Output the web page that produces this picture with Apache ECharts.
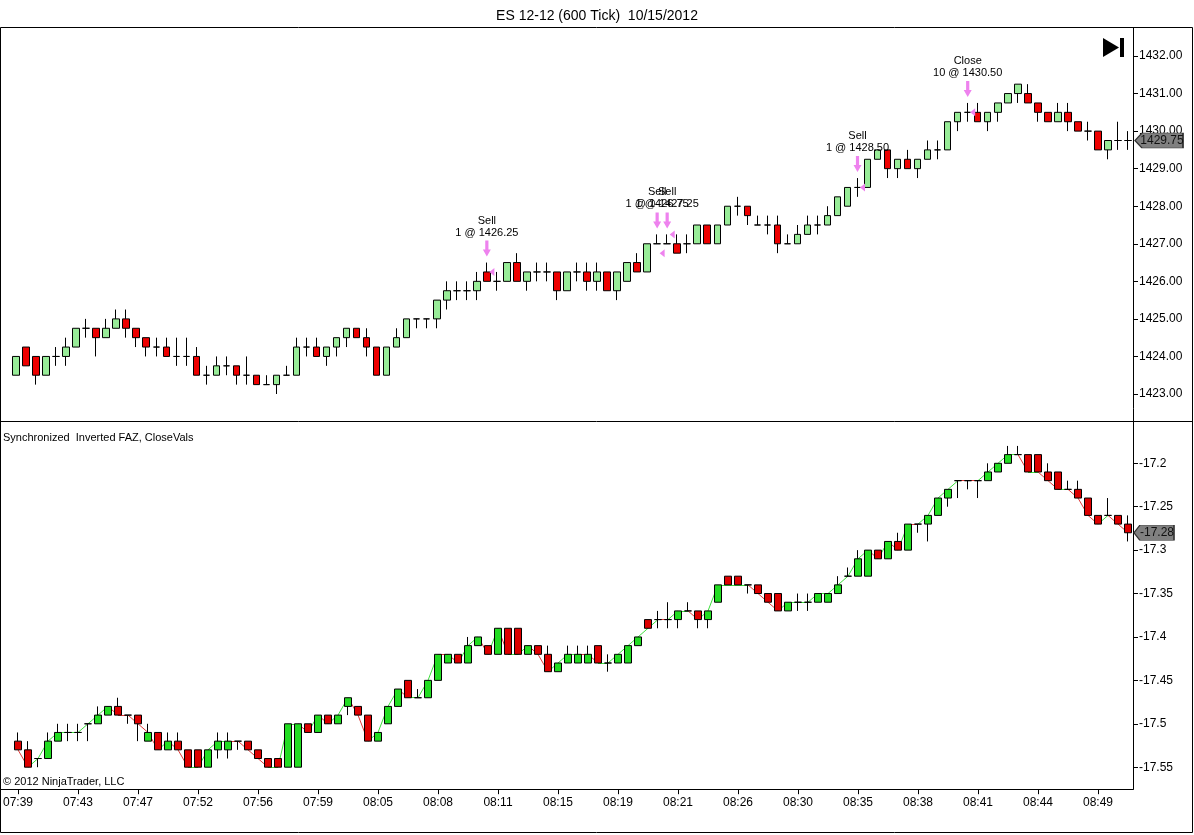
<!DOCTYPE html>
<html>
<head>
<meta charset="utf-8">
<script src="https://cdn.jsdelivr.net/npm/echarts@6/dist/echarts.min.js"></script>
<style>
html,body{margin:0;padding:0;background:#fff;}
#chart{width:1194px;height:835px;}
</style>
</head>
<body>
<div id="chart"></div>
<script>
// ---- DATA ----
const tickLabels = ['07:39','07:43','07:47','07:52','07:56','07:59','08:05','08:08','08:11','08:15','08:19','08:21','08:26','08:30','08:35','08:38','08:41','08:44','08:49'];

// ES 12-12 600 tick bars: [open, close, low, high]
const esOHLC = [
[1423.5,1424,1423.5,1424],[1424.25,1423.75,1423.75,1424.25],[1424,1423.5,1423.25,1424],[1423.5,1424,1423.5,1424],
[1424,1424,1423.75,1424.25],[1424,1424.25,1423.75,1424.5],[1424.25,1424.75,1424.25,1424.75],[1424.75,1424.75,1424.5,1425],
[1424.75,1424.5,1424,1424.75],[1424.5,1424.75,1424.5,1425],[1424.75,1425,1424.75,1425.25],[1425,1424.75,1424.5,1425.25],
[1424.75,1424.5,1424.25,1424.75],[1424.5,1424.25,1424,1424.5],[1424.25,1424.25,1424,1424.5],[1424.25,1424,1424,1424.5],
[1424,1424,1423.75,1424.5],[1424,1424,1423.75,1424.5],[1424,1423.5,1423.5,1424.25],[1423.5,1423.5,1423.25,1423.75],
[1423.5,1423.75,1423.5,1424],[1423.75,1423.75,1423.5,1424],[1423.75,1423.5,1423.25,1423.75],[1423.5,1423.5,1423.25,1424],
[1423.5,1423.25,1423.25,1423.5],[1423.25,1423.25,1423.25,1423.5],[1423.25,1423.5,1423,1423.5],[1423.5,1423.5,1423.5,1423.75],
[1423.5,1424.25,1423.5,1424.5],[1424.25,1424.25,1424,1424.5],[1424.25,1424,1424,1424.5],[1424,1424.25,1423.75,1424.25],
[1424.25,1424.5,1424,1424.5],[1424.5,1424.75,1424.25,1424.75],[1424.75,1424.5,1424.5,1424.75],[1424.5,1424.25,1424,1424.75],
[1424.25,1423.5,1423.5,1424.25],[1423.5,1424.25,1423.5,1424.25],[1424.25,1424.5,1424.25,1424.75],[1424.5,1425,1424.5,1425],
[1425,1425,1424.75,1425],[1425,1425,1424.75,1425],[1425,1425.5,1424.75,1425.5],[1425.5,1425.75,1425.25,1426],
[1425.75,1425.75,1425.5,1426],[1425.75,1425.75,1425.5,1426],[1425.75,1426,1425.5,1426.25],[1426.25,1426,1426,1426.5],
[1426,1426,1425.75,1426.25],[1426,1426.5,1426,1426.5],[1426.5,1426,1426,1426.75],[1426,1426.25,1425.75,1426.25],
[1426.25,1426.25,1426,1426.5],[1426.25,1426.25,1426,1426.5],[1426.25,1425.75,1425.5,1426.25],[1425.75,1426.25,1425.75,1426.25],
[1426.25,1426.25,1426,1426.5],[1426.25,1426,1425.75,1426.5],[1426,1426.25,1425.75,1426.5],[1426.25,1425.75,1425.75,1426.25],
[1425.75,1426.25,1425.5,1426.25],[1426,1426.5,1426,1426.5],[1426.5,1426.25,1426.25,1426.75],[1426.25,1427,1426.25,1427],
[1427,1427,1427,1427.25],[1427,1427,1427,1427.25],[1427,1426.75,1426.75,1427.25],[1427,1427,1426.75,1427.25],
[1427,1427.5,1427,1427.5],[1427.5,1427,1427,1427.5],[1427,1427.5,1427,1427.5],[1427.5,1428,1427.5,1428],
[1428,1428,1427.75,1428.25],[1428,1427.75,1427.5,1428],[1427.5,1427.5,1427.5,1427.75],[1427.5,1427.5,1427.25,1427.75],
[1427.5,1427,1426.75,1427.75],[1427,1427,1427,1427.25],[1427,1427.25,1427,1427.5],[1427.25,1427.5,1427.25,1427.75],
[1427.5,1427.5,1427.25,1427.75],[1427.5,1427.75,1427.5,1428],[1427.75,1428.25,1427.75,1428.25],[1428,1428.5,1428,1428.5],
[1428.5,1428.5,1428.25,1428.75],[1428.5,1429.25,1428.5,1429.25],[1429.25,1429.5,1429.25,1429.5],[1429.5,1429,1428.75,1429.5],
[1429,1429.25,1428.75,1429.25],[1429.25,1429,1429,1429.5],[1429,1429.25,1428.75,1429.25],[1429.25,1429.5,1429.25,1429.75],
[1429.5,1429.5,1429.25,1429.75],[1429.5,1430.25,1429.5,1430.25],[1430.25,1430.5,1430,1430.5],[1430.5,1430.5,1430.25,1430.75],
[1430.5,1430.25,1430.25,1430.75],[1430.25,1430.5,1430,1430.5],[1430.5,1430.75,1430.25,1430.75],[1430.75,1431,1430.75,1431],
[1431,1431.25,1430.75,1431.25],[1431,1430.75,1430.75,1431.25],[1430.75,1430.5,1430.25,1430.75],[1430.5,1430.25,1430.25,1430.5],
[1430.25,1430.5,1430.25,1430.75],[1430.5,1430.25,1430,1430.75],[1430.25,1430,1430,1430.25],[1430,1430,1429.75,1430.25],
[1430,1429.5,1429.5,1430],[1429.5,1429.75,1429.25,1429.75],[1429.75,1429.75,1429.5,1430.25],[1429.75,1429.75,1429.5,1430]
];

// Synchronized Inverted FAZ, CloseVals: [open, close, low, high]
const fazOHLC = [
[-17.52,-17.53,-17.53,-17.51],[-17.53,-17.55,-17.55,-17.52],[-17.54,-17.54,-17.55,-17.54],[-17.54,-17.52,-17.54,-17.51],
[-17.52,-17.51,-17.52,-17.50],[-17.51,-17.51,-17.52,-17.50],[-17.51,-17.51,-17.52,-17.50],[-17.50,-17.50,-17.52,-17.50],
[-17.50,-17.49,-17.50,-17.48],[-17.49,-17.48,-17.49,-17.48],[-17.48,-17.49,-17.49,-17.47],[-17.49,-17.49,-17.50,-17.49],
[-17.49,-17.50,-17.52,-17.49],[-17.52,-17.51,-17.52,-17.50],[-17.51,-17.53,-17.53,-17.51],[-17.53,-17.52,-17.53,-17.51],
[-17.52,-17.53,-17.53,-17.51],[-17.53,-17.55,-17.55,-17.53],[-17.53,-17.55,-17.55,-17.53],[-17.55,-17.53,-17.55,-17.53],
[-17.53,-17.52,-17.54,-17.51],[-17.53,-17.52,-17.54,-17.51],[-17.52,-17.52,-17.53,-17.52],[-17.52,-17.53,-17.53,-17.52],
[-17.53,-17.54,-17.54,-17.53],[-17.54,-17.55,-17.55,-17.54],[-17.54,-17.55,-17.55,-17.54],[-17.55,-17.50,-17.55,-17.50],
[-17.55,-17.50,-17.55,-17.50],[-17.50,-17.51,-17.51,-17.50],[-17.51,-17.49,-17.51,-17.49],[-17.49,-17.50,-17.50,-17.49],
[-17.50,-17.49,-17.50,-17.49],[-17.48,-17.47,-17.49,-17.47],[-17.48,-17.49,-17.49,-17.48],[-17.49,-17.52,-17.52,-17.49],
[-17.52,-17.51,-17.52,-17.51],[-17.50,-17.48,-17.50,-17.48],[-17.48,-17.46,-17.48,-17.46],[-17.45,-17.47,-17.47,-17.45],
[-17.47,-17.47,-17.47,-17.46],[-17.47,-17.45,-17.47,-17.45],[-17.45,-17.42,-17.45,-17.42],[-17.43,-17.42,-17.43,-17.42],
[-17.42,-17.43,-17.43,-17.42],[-17.43,-17.41,-17.43,-17.40],[-17.41,-17.40,-17.41,-17.40],[-17.41,-17.42,-17.42,-17.41],
[-17.42,-17.39,-17.42,-17.39],[-17.39,-17.42,-17.42,-17.39],[-17.39,-17.42,-17.42,-17.39],[-17.42,-17.41,-17.42,-17.41],
[-17.41,-17.42,-17.42,-17.41],[-17.42,-17.44,-17.44,-17.41],[-17.44,-17.43,-17.44,-17.43],[-17.43,-17.42,-17.43,-17.41],
[-17.43,-17.42,-17.43,-17.41],[-17.43,-17.42,-17.43,-17.41],[-17.41,-17.43,-17.43,-17.41],[-17.43,-17.43,-17.44,-17.42],
[-17.43,-17.42,-17.43,-17.42],[-17.43,-17.41,-17.43,-17.41],[-17.41,-17.40,-17.41,-17.40],[-17.38,-17.39,-17.39,-17.38],
[-17.38,-17.38,-17.39,-17.37],[-17.38,-17.38,-17.39,-17.36],[-17.38,-17.37,-17.39,-17.37],[-17.37,-17.37,-17.37,-17.36],
[-17.37,-17.38,-17.39,-17.37],[-17.38,-17.37,-17.39,-17.37],[-17.36,-17.34,-17.36,-17.34],[-17.33,-17.34,-17.34,-17.33],
[-17.33,-17.34,-17.34,-17.33],[-17.34,-17.34,-17.35,-17.34],[-17.34,-17.35,-17.35,-17.34],[-17.35,-17.36,-17.36,-17.35],
[-17.35,-17.37,-17.37,-17.35],[-17.37,-17.36,-17.37,-17.36],[-17.36,-17.36,-17.37,-17.35],[-17.36,-17.36,-17.37,-17.35],
[-17.36,-17.35,-17.36,-17.35],[-17.36,-17.35,-17.36,-17.35],[-17.35,-17.34,-17.35,-17.33],[-17.33,-17.33,-17.33,-17.32],
[-17.33,-17.31,-17.33,-17.30],[-17.33,-17.30,-17.33,-17.30],[-17.30,-17.31,-17.31,-17.30],[-17.31,-17.29,-17.31,-17.29],
[-17.29,-17.30,-17.30,-17.28],[-17.30,-17.27,-17.30,-17.27],[-17.27,-17.27,-17.28,-17.27],[-17.27,-17.26,-17.29,-17.26],
[-17.26,-17.24,-17.26,-17.24],[-17.24,-17.23,-17.25,-17.23],[-17.22,-17.22,-17.24,-17.22],[-17.22,-17.22,-17.23,-17.22],
[-17.22,-17.22,-17.24,-17.22],[-17.22,-17.21,-17.22,-17.20],[-17.21,-17.20,-17.21,-17.20],[-17.20,-17.19,-17.20,-17.18],
[-17.19,-17.19,-17.19,-17.18],[-17.19,-17.21,-17.21,-17.19],[-17.19,-17.21,-17.21,-17.19],[-17.21,-17.22,-17.22,-17.20],
[-17.21,-17.23,-17.23,-17.21],[-17.23,-17.23,-17.23,-17.22],[-17.23,-17.24,-17.24,-17.22],[-17.24,-17.26,-17.26,-17.24],
[-17.26,-17.27,-17.27,-17.26],[-17.26,-17.26,-17.26,-17.24],[-17.26,-17.27,-17.27,-17.26],[-17.27,-17.28,-17.29,-17.26]
];

// flat close-to-close segments that the indicator plotted as falling (segment end index)
const flatDownSegs = [11, 22, 43, 57, 65, 90, 95, 96];

// executions
const tradeIdx   = [47, 64, 65, 84, 95];
const tradeType  = ['Sell', 'Sell', 'Sell', 'Sell', 'Close'];
const tradeQty   = [1, 1, 1, 1, 10];
const tradePrice = [1426.25, 1426.75, 1427.25, 1428.50, 1430.50];

const categories = esOHLC.map((_, i) => (i % 6 === 0 ? tickLabels[i / 6] : ''));

// ---- BUILD ----
const FONT = 'Liberation Sans, Arial, sans-serif';
const PINK = '#ee82ee';
const n = esOHLC.length;
const fazClose = fazOHLC.map(r => r[1]);

const segs = [];
for (let i = 1; i < fazClose.length; i++) {
  const d = fazClose[i] - fazClose[i - 1];
  const up = d > 1e-9 ? true : (d < -1e-9 ? false : flatDownSegs.indexOf(i) < 0);
  segs.push({ coords: [[i - 1, fazClose[i - 1]], [i, fazClose[i]]],
              lineStyle: { color: up ? '#3ee03e' : '#e03a3a', width: 1, opacity: 1 } });
}

const arrowPath = 'path://M3,0 L7,0 L7,9 L10,9 L5,16 L0,9 L3,9 Z';
const fillPath = 'path://M0,4 L6,0 L6,8 Z';
const tagPath = 'path://M0,7 L7,0 L48,0 L48,14 L7,14 Z';

const tradeMarks = [];
tradeIdx.forEach((idx, k) => {
  tradeMarks.push({
    coord: [idx, esOHLC[idx][3]],
    symbol: arrowPath, symbolSize: [8, 16], symbolOffset: [0, -14],
    itemStyle: { color: PINK },
    label: { show: true, position: 'top', distance: 2,
             formatter: tradeType[k] + '\n' + tradeQty[k] + ' @ ' + tradePrice[k].toFixed(2),
             color: '#000', fontSize: 11, lineHeight: 12, fontFamily: FONT }
  });
  tradeMarks.push({
    coord: [idx, tradePrice[k]],
    symbol: fillPath, symbolSize: [5, 8], symbolOffset: [5, 0],
    itemStyle: { color: PINK }, label: { show: false }
  });
});

function lastTag(val, text, w, off) {
  return {
    coord: [n - 1, val], symbol: tagPath, symbolSize: [w, 15], symbolOffset: [off, 0],
    itemStyle: { color: '#808080', borderColor: '#333', borderWidth: 1 },
    label: { show: true, position: 'inside', formatter: text, color: '#111',
             fontSize: 12, fontFamily: FONT, offset: [3, 0] }
  };
}
tradeMarks.push(lastTag(esOHLC[n - 1][1], esOHLC[n - 1][1].toFixed(2), 48, 31));

const chart = echarts.init(document.getElementById('chart'));
chart.setOption({
  animation: false,
  backgroundColor: '#fff',
  title: { text: 'ES 12-12 (600 Tick)  10/15/2012', left: 'center', top: 4,
           textStyle: { fontSize: 14, fontWeight: 'normal', color: '#000', fontFamily: FONT } },
  grid: [
    { left: 11, right: 61, top: 56, height: 338 },
    { left: 11, right: 61, top: 463.3, height: 303.9 }
  ],
  xAxis: [
    { type: 'category', gridIndex: 0, data: categories, show: false },
    { type: 'category', gridIndex: 1, data: categories, offset: 22,
      axisLine: { show: true, lineStyle: { color: '#000' } },
      axisTick: { show: true, interval: 5, length: 5, alignWithLabel: true, lineStyle: { color: '#000' } },
      axisLabel: { interval: 5, color: '#000', fontSize: 12, margin: 7, fontFamily: FONT },
      splitLine: { show: false } }
  ],
  yAxis: [
    { type: 'value', gridIndex: 0, position: 'right', min: 1423, max: 1432, interval: 1,
      splitLine: { show: false },
      axisLine: { show: true, lineStyle: { color: '#000' } },
      axisTick: { show: true, length: 5, lineStyle: { color: '#000' } },
      axisLabel: { formatter: v => v.toFixed(2), color: '#000', fontSize: 12, margin: 6, fontFamily: FONT } },
    { type: 'value', gridIndex: 1, position: 'right', min: -17.55, max: -17.2, interval: 0.05,
      splitLine: { show: false },
      axisLine: { show: true, lineStyle: { color: '#000' } },
      axisTick: { show: true, length: 5, lineStyle: { color: '#000' } },
      axisLabel: { formatter: v => String(Math.round(v * 100) / 100), color: '#000', fontSize: 12, margin: 6, fontFamily: FONT } }
  ],
  series: [
    { type: 'candlestick', xAxisIndex: 0, yAxisIndex: 0, data: esOHLC, barWidth: 7, z: 3, clip: false,
      itemStyle: { color: '#98ec98', color0: '#ee0000', borderColor: '#000', borderColor0: '#000', borderColorDoji: '#000', borderWidth: 1 },
      markPoint: { data: tradeMarks, animation: false } },
    { type: 'lines', coordinateSystem: 'cartesian2d', xAxisIndex: 1, yAxisIndex: 1, z: 2, clip: false,
      data: segs, lineStyle: { width: 1, opacity: 1 }, silent: true },
    { type: 'candlestick', xAxisIndex: 1, yAxisIndex: 1, data: fazOHLC, barWidth: 7, z: 3, clip: false,
      itemStyle: { color: '#22dd22', color0: '#dd0000', borderColor: '#000', borderColor0: '#000', borderColorDoji: '#000', borderWidth: 1 },
      markPoint: { data: [lastTag(fazClose[n - 1], String(fazClose[n - 1]), 40, 26)], animation: false } }
  ],
  graphic: [
    { type: 'rect', shape: { x: 0.5, y: 27.5, width: 1192, height: 805 }, style: { stroke: '#000', fill: null, lineWidth: 1 }, silent: true },
    { type: 'line', shape: { x1: 0, y1: 421.5, x2: 1193, y2: 421.5 }, style: { stroke: '#000', lineWidth: 1 } },
    { type: 'line', shape: { x1: 1133.5, y1: 27, x2: 1133.5, y2: 789.5 }, style: { stroke: '#000', lineWidth: 1 } },
    { type: 'line', shape: { x1: 0, y1: 789.5, x2: 1133.5, y2: 789.5 }, style: { stroke: '#000', lineWidth: 1 } },
    { type: 'polygon', shape: { points: [[1103, 38], [1119, 47.5], [1103, 57]] }, style: { fill: '#000' } },
    { type: 'rect', shape: { x: 1120, y: 38, width: 4, height: 19 }, style: { fill: '#000' } },
    { type: 'text', left: 3, top: 432, style: { text: 'Synchronized  Inverted FAZ, CloseVals', fill: '#000', fontSize: 11, fontFamily: FONT } },
    { type: 'text', left: 3, top: 776, style: { text: '\u00A9 2012 NinjaTrader, LLC', fill: '#000', fontSize: 11, fontFamily: FONT } }
  ]
});
</script>
</body>
</html>
